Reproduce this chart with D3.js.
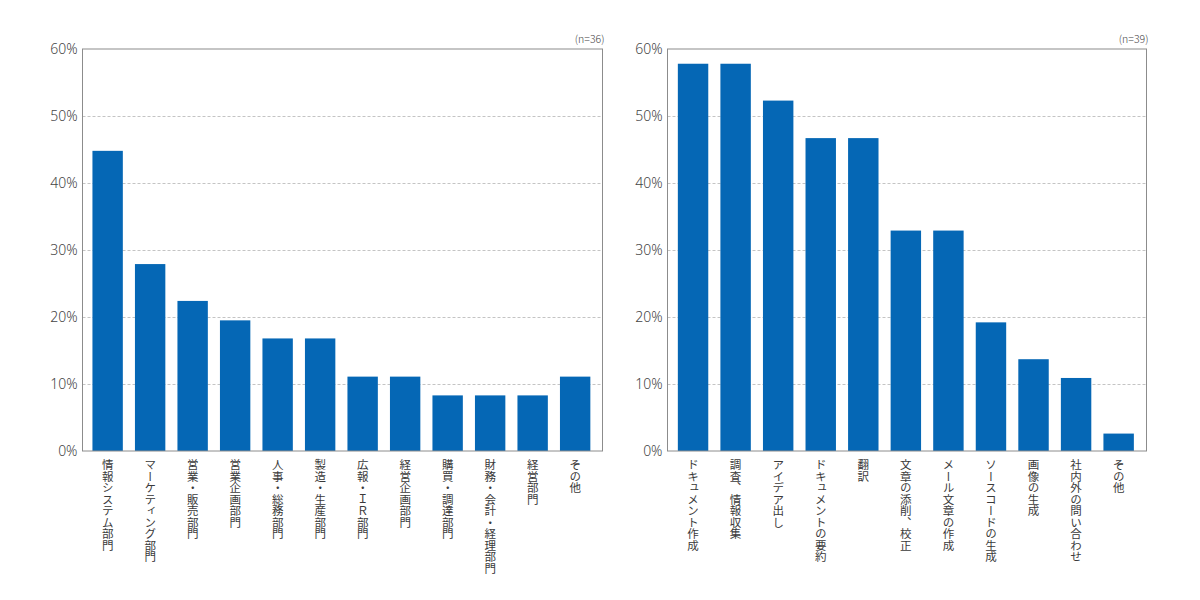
<!DOCTYPE html>
<html><head><meta charset="utf-8">
<script src="https://cdn.jsdelivr.net/npm/d3@7"></script>
<style>
body{margin:0;background:#fff;}
svg{display:block;font-family:"Noto Sans CJK JP","Noto Sans",sans-serif;}
.vlabel{writing-mode:vertical-rl;}
</style>
</head><body><svg id="c" width="1200" height="600"></svg>
<script>
const deptCategories = ["情報システム部門","マーケティング部門","営業・販売部門","営業企画部門","人事・総務部門","製造・生産部門","広報・ＩＲ部門","経営企画部門","購買・調達部門","財務・会計・経理部門","経営部門","その他"];
const deptValues = [44.8, 27.9, 22.4, 19.5, 16.8, 16.8, 11.1, 11.1, 8.3, 8.3, 8.3, 11.1];
const deptN = "(n=36)";
const useCategories = ["ドキュメント作成","調査、情報収集","アイデア出し","ドキュメントの要約","翻訳","文章の添削、校正","メール文章の作成","ソースコードの生成","画像の生成","社内外の問い合わせ","その他"];
const useValues = [57.8, 57.8, 52.3, 46.7, 46.7, 32.9, 32.9, 19.2, 13.7, 10.9, 2.6];
const useN = "(n=39)";
const yTicks = [0, 10, 20, 30, 40, 50, 60];

const svg = d3.select("#c");
const plotTop = 49, plotBottom = 451;
const y = d3.scaleLinear().domain([0, 60]).range([plotBottom, plotTop]);

function drawChart(cats, vals, nLabel, left, right, padOuter) {
  const g = svg.append("g");
  const x = d3.scaleBand().domain(cats).range([left, right]).paddingInner(0.285).paddingOuter(padOuter).align(0.45);
  g.append("g").attr("transform", `translate(${left},0)`)
    .call(d3.axisLeft(y).tickValues(yTicks.filter(t => t > 0 && t < 60)).tickSize(-(right - left)).tickFormat(""))
    .call(s => s.select(".domain").remove())
    .call(s => s.selectAll("line").attr("stroke", "#c4c4c4").attr("stroke-dasharray", "3,2"));
  g.selectAll("rect.bar").data(vals).join("rect")
    .attr("class", "bar")
    .attr("x", (d, i) => x(cats[i]))
    .attr("width", x.bandwidth())
    .attr("y", d => y(d))
    .attr("height", d => y(0) - y(d))
    .attr("fill", "#0567b5");
  g.append("rect").attr("x", left).attr("y", plotTop).attr("width", right - left).attr("height", plotBottom - plotTop)
    .attr("fill", "none").attr("stroke", "#8c8c8c").attr("stroke-width", 1);
  g.append("g").attr("transform", `translate(${left},0)`)
    .call(d3.axisLeft(y).tickValues(yTicks).tickSize(0).tickPadding(5).tickFormat(d => d + "%"))
    .call(s => s.select(".domain").remove())
    .call(s => s.selectAll("text").attr("font-size", 14).attr("fill", "#444")
      .attr("font-family", "'Noto Sans','Noto Sans CJK JP',sans-serif").attr("font-weight", 300));
  g.selectAll("text.vlabel").data(cats).join("text")
    .attr("class", "vlabel")
    .attr("x", d => x(d) + x.bandwidth() / 2)
    .attr("y", plotBottom + 8)
    .attr("font-size", 11.5)
    .attr("font-weight", 400)
    .attr("fill", "#3a3a3a")
    .text(d => d);
  g.append("text").attr("x", right + 2).attr("y", 43).attr("text-anchor", "end")
    .attr("font-size", 10.5).attr("font-weight", 300).attr("fill", "#444").text(nLabel);
}

drawChart(deptCategories, deptValues, deptN, 82.5, 602.5, 0.26);
drawChart(useCategories, useValues, useN, 667.5, 1146.5, 0.27);
</script>
</body></html>
